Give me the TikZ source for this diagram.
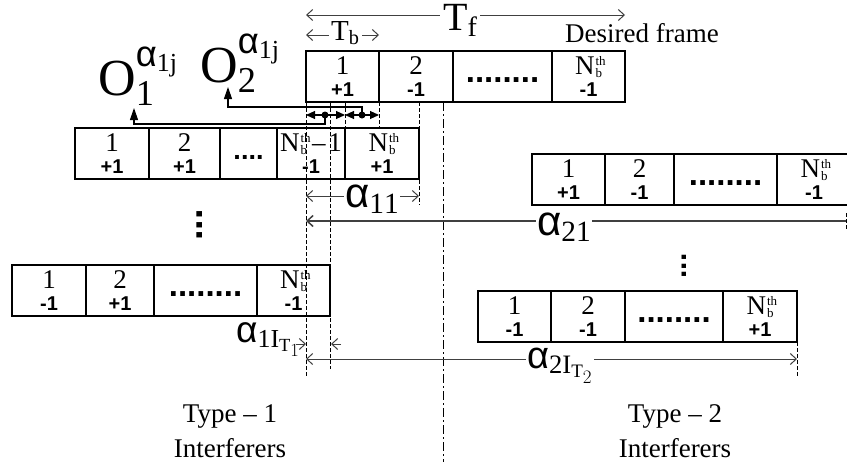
\documentclass[tikz,border=0pt]{standalone}
\usepackage{fix-cm}
\usepackage{amsmath,graphicx}
\usepackage{fontspec}
\setmainfont{Liberation Serif}
\newfontfamily\sansfam{Liberation Sans}
\usetikzlibrary{arrows.meta,positioning}
\newcommand{\alp}{\text{\sansfam α}}
\newcommand{\nbth}{N\hspace{1pt}\rlap{\raisebox{8.5pt}{\fontsize{13}{13}\selectfont th}}\raisebox{-3.5pt}{\fontsize{13}{13}\selectfont b}\hspace{4pt}}
\newcommand{\bitc}[2]{#1\\{\sansfam\bfseries\fontsize{20}{22}\selectfont #2}}

\begin{document}
\begin{tikzpicture}[x=1pt, y=-1pt,
  >={Straight Barb[length=6pt,width=11pt]},
  cell/.style={draw, line width=1.2pt, minimum height=51pt, inner sep=0pt, outer sep=0pt, align=center, font=\fontsize{27}{22}\selectfont},
  dotcell/.style={draw, line width=1.2pt, minimum height=51pt, inner sep=0pt, outer sep=0pt, text height=12pt, text depth=0pt, font=\sansfam\bfseries\fontsize{33}{33}\selectfont},
  guide/.style={line width=0.8pt, dash pattern=on 4pt off 2pt},
  dashdot/.style={line width=0.8pt, dash pattern=on 9pt off 3pt on 2pt off 3pt},
  dim/.style={line width=1pt, draw=black!75},
  oarr/.style={line width=1.1pt, -{Triangle[length=12pt,width=8pt]}},
  dbl/.style={line width=1.1pt, {Triangle[length=9pt,width=8pt]}-{Triangle[length=9pt,width=8pt]}},
  blob/.style={circle, fill, inner sep=0pt, minimum size=7pt},
  lab/.style={inner sep=0pt, font=\fontsize{27}{35}\selectfont},
  vdot/.style={rotate=90, inner sep=0pt, font=\sansfam\bfseries\fontsize{38}{38}\selectfont}
]
\useasboundingbox (0,0) rectangle (847,469);
\clip (0,0) rectangle (847,469);
% desired frame
\node[cell, minimum width=73pt, anchor=north west] (d1) at (306,51) {\bitc{1}{+1}};
\node[cell, minimum width=74pt, right=0pt of d1] (d2) {\bitc{2}{-1}};
\node[dotcell, minimum width=99pt, right=0pt of d2] (d3) {........};
\node[cell, minimum width=73pt, right=0pt of d3] (d4) {\bitc{\nbth}{-1}};
\node[lab, anchor=base west] (df) at (565,42) {Desired frame};
% type-1 interferers
\node[cell, minimum width=74pt, anchor=north west] (a1) at (75,128) {\bitc{1}{+1}};
\node[cell, minimum width=71pt, right=0pt of a1] (a2) {\bitc{2}{+1}};
\node[dotcell, minimum width=57pt, font=\sansfam\bfseries\fontsize{27}{27}\selectfont, right=0pt of a2] (a3) {....};
\node[cell, minimum width=68pt, right=0pt of a3] (a4) {\bitc{\nbth\hspace{1pt}–\hspace{3pt}1}{-1}};
\node[cell, minimum width=74pt, right=0pt of a4] (a5) {\bitc{\nbth}{+1}};
\node[cell, minimum width=74pt, anchor=north west] (b1) at (12,265) {\bitc{1}{-1}};
\node[cell, minimum width=68pt, right=0pt of b1] (b2) {\bitc{2}{+1}};
\node[dotcell, minimum width=103pt, right=0pt of b2] (b3) {........};
\node[cell, minimum width=73pt, right=0pt of b3] (b4) {\bitc{\nbth}{-1}};
% type-2 interferers
\node[cell, minimum width=73pt, anchor=north west] (c1) at (532,154) {\bitc{1}{+1}};
\node[cell, minimum width=69pt, right=0pt of c1] (c2) {\bitc{2}{-1}};
\node[dotcell, minimum width=103pt, right=0pt of c2] (c3) {........};
\node[cell, minimum width=74pt, right=0pt of c3] (c4) {\bitc{\nbth}{-1}};
\node[cell, minimum width=73pt, anchor=north west] (e1) at (478,291) {\bitc{1}{-1}};
\node[cell, minimum width=74pt, right=0pt of e1] (e2) {\bitc{2}{-1}};
\node[dotcell, minimum width=98pt, right=0pt of e2] (e3) {........};
\node[cell, minimum width=74pt, right=0pt of e3] (e4) {\bitc{\nbth}{+1}};
\node[vdot] (v1) at (200,225) {...};
\node[vdot, font=\sansfam\bfseries\fontsize{30}{30}\selectfont] (v2) at (684,266) {...};
\node[lab, align=center, anchor=north] (ty1) at (230,404) {Type – 1\\Interferers};
\node[lab, align=center, anchor=north] (ty2) at (675,404) {Type – 2\\Interferers};
% guides
\coordinate (sep) at (443,102);
\draw[guide] (d1.south west) -- ++(0,274);
\draw[guide] (d1.south west -| b4.east) -- ++(0,267);
\draw[guide] (d1.south west -| a5.west) -- (a5.north west);
\draw[guide] (d1.south east) -- (d1.south east |- a5.north);
\draw[guide] (d2.south -| a5.east) -- ++(0,103);
\draw[dashdot] (sep) -- ++(0,360);
\draw[guide] (e4.south east) -- ++(0,34);
% bit offsets
\node[blob] (k1) at (325,115) {};
\node[blob] (k2) at (362,115) {};
\draw[dbl] (d1.south west |- k1) -- (a5.north west |- k1);
\draw[dbl] (a5.north west |- k2) -- (d1.south east |- k2);
\node[anchor=base west, inner sep=0pt, font=\fontsize{52}{52}\selectfont] (o1) at (98,95) {$\mathrm{O}_{\mathrm{1}}^{\alp_{\mathrm{1j}}}$};
\node[anchor=base west, inner sep=0pt, font=\fontsize{52}{52}\selectfont] (o2) at (200,82) {$\mathrm{O}_{\mathrm{2}}^{\alp_{\mathrm{1j}}}$};
\coordinate (o1tip) at (134,108);
\coordinate (o2tip) at (228,87);
\draw[oarr] (k1.center) -- ++(0,9) -| (o1tip);
\draw[oarr] (k2.center) -- ++(0,-8) -| (o2tip);
% dimensions
\coordinate (tf0) at (306,15);
\coordinate (tb0) at (306,35);
\draw[dim,<->] (tf0) -- (tf0 -| d4.east);
\node[lab, fill=white, inner xsep=3pt, font=\fontsize{40}{40}\selectfont, anchor=base west] (tf) at (440,30) {$\mathrm{T}_{\mathrm{f}}$};
\draw[dim,<->] (tb0) -- (tb0 -| d1.east);
\node[lab, fill=white, inner xsep=2pt, font=\fontsize{29}{29}\selectfont, anchor=base west] (tb) at (329,40) {$\mathrm{T}_{\mathrm{b}}$};
\coordinate (a11l) at (306,196);
\draw[dim,<->] (a11l) -- (a11l -| a5.east);
\node[lab, fill=white, inner sep=1pt, font=\fontsize{42}{42}\selectfont, anchor=base west] (al11) at (344,207) {$\alp_{\mathrm{11}}$};
\coordinate (a21l) at (306,221);
\coordinate (a21r) at (846,221);
\draw[dim, line width=1.5pt, <-] (a21l) -- (a21r);
\draw[guide] ([yshift=8pt]a21r) -- ([yshift=-8pt]a21r);
\node[lab, fill=white, inner sep=1pt, font=\fontsize{42}{42}\selectfont, anchor=base west] (al21) at (536,235) {$\alp_{\mathrm{21}}$};
\coordinate (a2il) at (306,359);
\draw[dim,<->] (a2il) -- (a2il -| e4.east);
\node[lab, fill=white, inner sep=1pt, font=\fontsize{38}{38}\selectfont, anchor=base west] (al2i) at (526,368) {$\alp_{\mathrm{2I}_{\mathrm{T}_2}}$};
\node[lab, font=\fontsize{37}{37}\selectfont, anchor=base west] (al1i) at (236,342) {$\alp_{\mathrm{1I}_{\mathrm{T}_1}}$};
\coordinate (g1) at (306,344);
\coordinate (g2) at (331,344);
\draw[dim,->] ([xshift=-10pt]g1) -- (g1);
\draw[dim,->] ([xshift=10pt]g2) -- (g2);
\end{tikzpicture}
\end{document}
